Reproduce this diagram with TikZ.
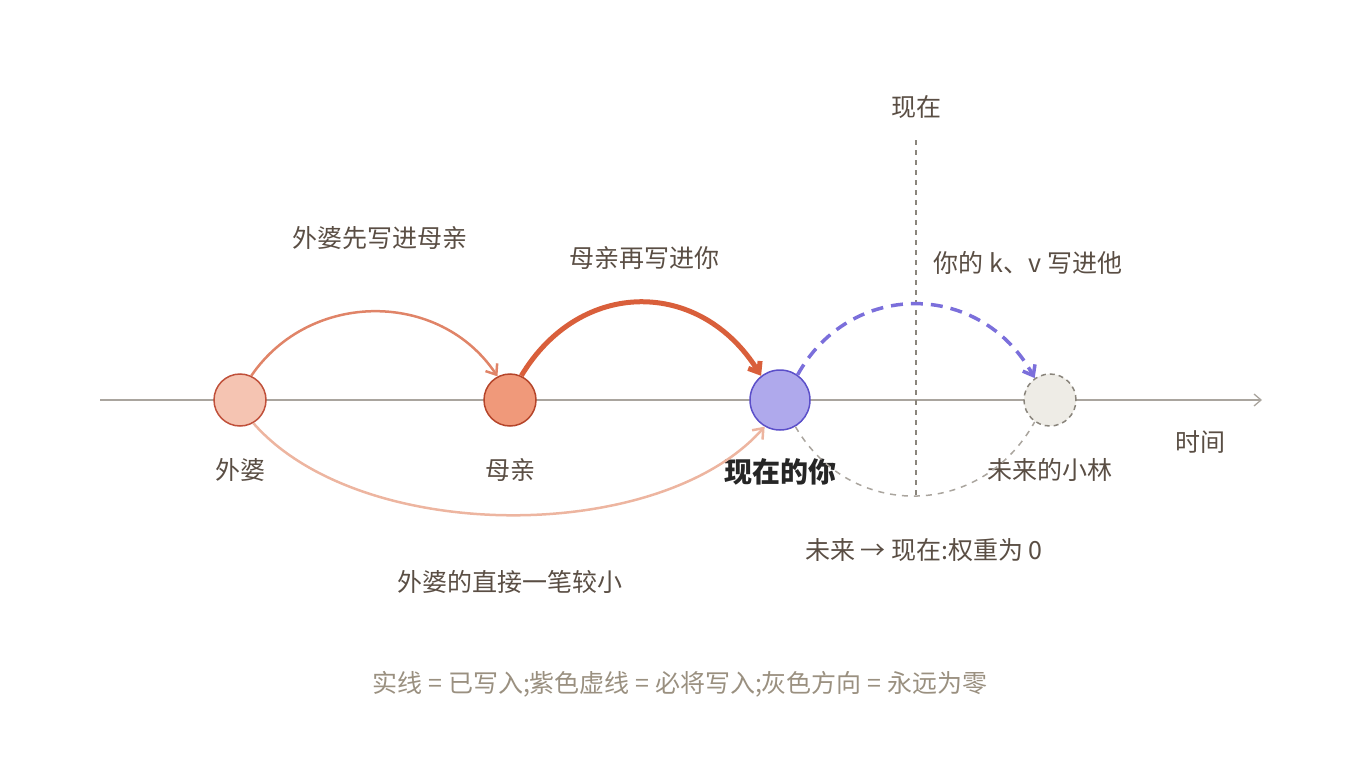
\documentclass[tikz,border=0pt]{standalone}
\usepackage{fontspec}
\setmainfont{Noto Sans CJK SC}
\usetikzlibrary{arrows.meta}
\definecolor{ink}{HTML}{5A4E44}
\definecolor{legend}{HTML}{9A9080}
\definecolor{axis}{HTML}{AAA59E}
\definecolor{gmaFill}{HTML}{F5C4B2}
\definecolor{gmaLine}{HTML}{C0503A}
\definecolor{momFill}{HTML}{F0997A}
\definecolor{momLine}{HTML}{B5452A}
\definecolor{youFill}{HTML}{AFA9EC}
\definecolor{youLine}{HTML}{5B4FC9}
\definecolor{futFill}{HTML}{EEECE6}
\definecolor{futLine}{HTML}{8A857C}
\definecolor{arcA}{HTML}{E08468}
\definecolor{arcB}{HTML}{D95F3B}
\definecolor{arcC}{HTML}{EDB5A0}
\definecolor{arcD}{HTML}{7B6FDB}
\tikzset{
  lbl/.style={text=ink, font=\fontsize{25}{29}\selectfont},
  dot/.style={circle, line width=1.5pt, inner sep=0pt},
  barb/.style={-{Straight Barb[length=9pt,width=14pt]}}
}
\begin{document}
\begin{tikzpicture}[x=1pt,y=-1pt]
    \useasboundingbox (0,0) rectangle (1360,760);
    %Axis
    \coordinate (ax0) at (100,400);
    \coordinate (ax1) at (1262,400);
    \draw [axis, line width=1.3pt, -{Straight Barb[length=7pt,width=12pt]}] (ax0) -- (ax1);
    \node [lbl] (time) at (1200,442) {时间};
    %Now
    \coordinate (now0) at (916,140);
    \coordinate (now1) at (916,497);
    \draw [futLine, line width=1.3pt, dash pattern=on 5pt off 5pt] (now0) -- (now1);
    \node [lbl] (nowlbl) at (916,107) {现在};

    %Nodes
    \node [dot, minimum size=52pt, fill=gmaFill, draw=gmaLine] (gma) at (240,400) {};
    \node [dot, minimum size=52pt, fill=momFill, draw=momLine] (mom) at (510,400) {};
    \node [dot, minimum size=60pt, fill=youFill, draw=youLine] (you) at (780,400) {};
    \node [dot, minimum size=52pt, fill=futFill, draw=futLine, dash pattern=on 5pt off 4pt] (fut) at (1050,400) {};
    \node [lbl] (gmalbl) at (240,470) {外婆};
    \node [lbl] (momlbl) at (510,470) {母亲};
    \node [lbl, text=black!85, font=\fontsize{28}{32}\selectfont\bfseries] (youlbl) at (780,472) {现在的你};
    \node [lbl] (futlbl) at (1050,470) {未来的小林};

    %Written
    \draw [arcA, line width=2.5pt, barb] (gma.65) .. controls (310,290) and (440,290) .. (mom.118);
    \draw [arcB, line width=5pt, barb] (mom.65) .. controls (580,278) and (700,278) .. (you.128);
    \draw [arcC, line width=2.5pt, barb] (gma.-60) .. controls (360,545) and (660,545) .. (you.-120);
    %Will write
    \draw [arcD, line width=3.5pt, dash pattern=on 12pt off 8pt, barb] (you.55) .. controls (850,280) and (980,280) .. (fut.125);
    %Never
    \draw [axis, line width=1.5pt, dash pattern=on 6pt off 6pt] (you.-60) .. controls (850,520) and (980,520) .. (fut.-125);

    %Captions
    \node [lbl] (capA) at (380,238) {外婆先写进母亲};
    \node [lbl] (capB) at (644,258) {母亲再写进你};
    \node [lbl] (capC) at (510,582) {外婆的直接一笔较小};
    \node [lbl] (capD) at (1028,263) {你的 k、v 写进他};
    \node [lbl] (capE) at (924,550) {未来 → 现在:权重为 0};
    \node [lbl, text=legend] (legendlbl) at (680,684) {实线 = 已写入;紫色虚线 = 必将写入;灰色方向 = 永远为零};
\end{tikzpicture}
\end{document}
